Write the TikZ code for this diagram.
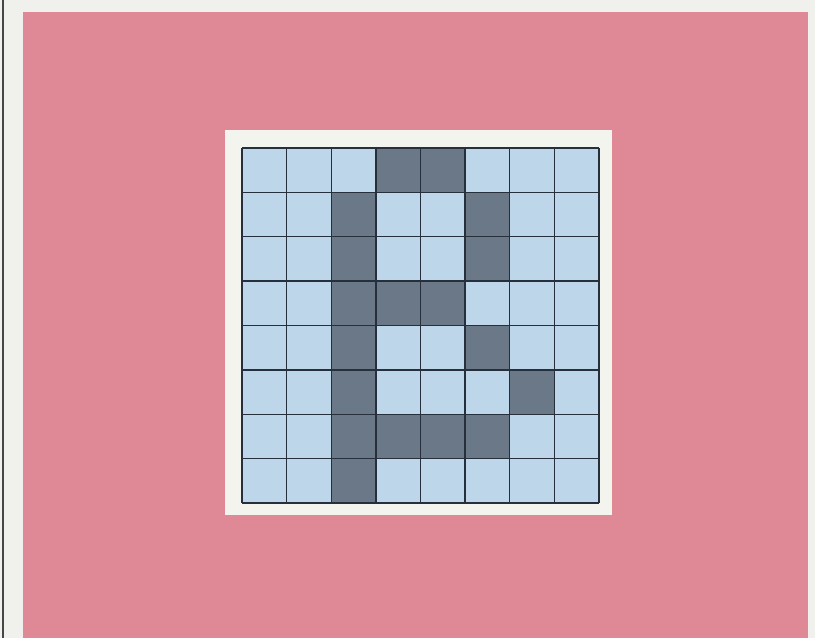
\documentclass[tikz,border=0pt]{standalone}
\definecolor{bgwhite}{RGB}{240,241,237}
\definecolor{pinkbg}{RGB}{223,136,150}
\definecolor{mat}{RGB}{244,244,239}
\definecolor{cellblue}{RGB}{189,214,234}
\definecolor{celldark}{RGB}{106,120,135}
\definecolor{gridline}{RGB}{38,48,60}
\definecolor{edgeline}{RGB}{70,70,70}
\tikzset{
  cell/.style={fill=cellblue},
  darkcell/.style={fill=celldark},
  gridstroke/.style={draw=gridline,line width=1.3pt}
}
\begin{document}
\begin{tikzpicture}[x=1pt,y=-1pt]
\useasboundingbox (0,0) rectangle (815,638);
\fill[bgwhite] (0,0) rectangle (815,638);
\draw[edgeline,line width=1.8pt] (3,0) -- (3,638);
\fill[pinkbg] (23,12) rectangle (808,638);
\fill[mat] (225,130) rectangle (612,515);
% grid cells
\def\gx{242}\def\gy{148}\def\cw{44.625}\def\ch{44.375}
\fill[cellblue] (\gx,\gy) rectangle ({\gx+8*\cw},{\gy+8*\ch});
\foreach \r/\c in {0/3,0/4,1/2,1/5,2/2,2/5,3/2,3/3,3/4,4/2,4/5,5/2,5/6,6/2,6/3,6/4,6/5,7/2}{
  \fill[celldark] ({\gx+\c*\cw},{\gy+\r*\ch}) rectangle ({\gx+(\c+1)*\cw},{\gy+(\r+1)*\ch});
}
\foreach \i in {0,...,8}{
  \draw[gridstroke] ({\gx+\i*\cw},\gy) -- ({\gx+\i*\cw},{\gy+8*\ch});
  \draw[gridstroke] (\gx,{\gy+\i*\ch}) -- ({\gx+8*\cw},{\gy+\i*\ch});
}
\end{tikzpicture}
\end{document}
